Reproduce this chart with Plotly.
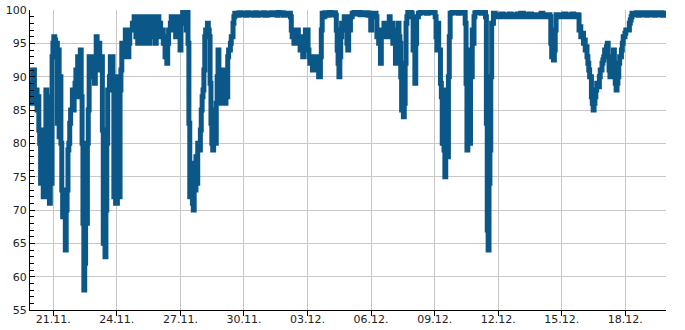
import plotly.graph_objects as go
import pandas as pd

start = pd.Timestamp("2020-11-19 21:36")

hours1 = [0,1,2,3,5,6,7,8,9,10,11,12,14,15,16,17,18,19,20,22,23,24,25,26,27,28,29,31,32,33,34,35,36,37,39,40,41,42,43,44,45,46,48,49,50,51,52,53,54,56,57,58,59,60,61,62,63,65,66,67,68,69,70,71,73,74,75,76,77,78,79,80,82,83,84,85,86,87,88,90,91,92,93,94,95,96,97,99]
vals1 = [87,86,89,91,88,86,88,85,87,82,80,74,82,72,80,72,88,74,87,71,87,74,93,95,96,95.5,95,83,94,81,90,80,73,69,72,64,70,73,79,80,83,85,88,85,88,89,91,87,93,88,94,87,80,68,58,62,68,80,85,93,90,93,90,92,89,93,96,95,91,95,91,93,82,65,72,63,70,80,88,90,93,89,93,90,72,82,71,88]

hours2 = [100,101,102,103,104,105,107,108,109,110,111,112,113,114,116,117,118,119,120,121,122,124,125,126,127,128,129,130,131,133,134,135,136,137,138,139,140,142,143,144,145,146,147,148,150,151,152,153,154,155,156,157,159,160,161,162,163,164,165,167,168,169,170,171,172,173,174,176,177,178,179,180,181,182,184,185,186,187,188,189,190,191,193,194,195,196,197,198,199,201,202,203]
vals2 = [90,72,88,91,95,93,95,97,94,96,93,95,97,97,98,98,99,98,96,99,95,99,95,99,96,99,99,99,95,99,97,95,99,98,99,96,99,95,98,99,99,97,98,96,97,95,96,93,94,92,95,97,98,99,99,98,97,98,96,99,97,98,94,98,99,100,98,100,97,100,95,83,72,77,71,70,76,73,78,74,80,79,82,85,87,88,91,96,97,98,97,96]

hours3 = [204,205,206,207,208,210,211,212,213,214,215,216,218,219,220,221,222,223,224,225,227,228,229,230,231,232,235,237,239,241,244,246,248,250,253,255,257,259,262,264,266,269,271,273,275,278,280,281,282,284,287,289,291,293,295,296,297,298,299,300,301,303,304]
vals3 = [89,83,80,79,85,80,86,90,94,88,91,86,90,87,91,86,90,87,93,94,95,96,96,98,99,99.5,99.2,99.6,99.3,99.5,99.2,99.6,99.3,99.5,99.2,99.6,99.2,99.5,99.3,99.6,99.2,99.5,99.3,99.6,99.3,99.5,99.2,100,99.4,99.6,99.2,99.5,99.3,99.5,99,97,96,97,95,96,95,97,96]

hours4 = [305,306,307,308,309,310,312,313,314,315,316,317,318,320,321,322,323,324,325,326,327,329,330,331,332,334,337,339,341,343,346,347,348,349,350,351,352,353,355,356,357,358,359,360,361,363,365,367,369,372,374,376,378,381,383,385,386,387,390,392,393,394,395,397,398,399,400,401,402,403,404,406,407]
vals4 = [96,94,96,95,93,96,97,96,97,94,93,92,93,91,92,91,93,92,91,92,90,93,97,99.5,99,99.6,99.2,100,99.3,99.6,99.2,97,94,92,90,93,96,98,97,99,97,99,95,94,97,99,99.5,99.8,99.4,99.7,99.3,99.6,99.3,99.6,99.2,99.5,97,99.2,99.5,99,96,97,95,92,96,97,96,98,96,97,98,96,99]

hours5 = [408,409,410,411,412,414,415,416,417,418,419,420,421,423,424,425,426,427,428,429,431,432,433,434,435,436,437,438,440,442,444,446,449,451,453,455,458,459,460,461,462,463,465,466,467,468,469,470,471,472,474,475,476,478,480,483,485,487,489,492,493,494,495,496,497,499,500,501,502,503,504,506,509]
vals5 = [97,96,98,95,96,92,97,96,98,96,95,90,85,84,86,92,98,99,100,99.5,100,99.5,99,94,97,89,95,99,99.5,100,99.6,100,99.5,100,99.6,100,99.6,99,96,94,98,94,89,87,80,88,79,75,86,78,90,96,99.5,100,99.6,100,99.5,100,99.6,100,98,89,79,82,80,94,90,97,95,99,99.6,100,99.6]

hours6 = [511,513,516,517,518,519,520,521,522,523,525,527,529,531,534,536,538,540,543,545,547,550,552,554,556,559,561,563,565,568,570,572,574,577,579,581,583,586,588,589,590,591,593,594,595,596,598,600,603,605,607,610,612,614,616,619,621]
vals6 = [99.5,100,99,83,67,64,74,79,90,98,99.5,99.0,99.3,99.0,99.4,99.0,99.3,99.0,99.4,99.0,99.3,99.0,99.4,99.0,99.5,99.0,99.3,99.0,99.4,99.0,99.3,99.0,99.3,99.0,99.5,99.0,99.3,99.0,99.3,99,95,93,92.5,94,97,99.3,99.0,99.3,99.0,99.4,99.0,99.3,99.0,99.4,99.0,99.3,99.2]

hours7 = [622,623,624,625,627,628,629,630,631,632,633,634,636,637,638,639,640,641,642,644,645,646,647,648,649,650,651,653,654,655,656,657,658,659,661,662,663,664,665,666,667,668,670,671,672,673,674,675,676,678,679,680,681,682,684,687,689,691,693,696,698,700,702,705,707,709,712,714,716,718,720]
vals7 = [97,97.5,96,96.5,95,95.5,94,94.5,93,92,91,90,87,86,85,86,87,88,89,88.5,90,91,91,92,92.5,93,94,94.5,95,93,91,90,92,93,94,91,89,88,89,90,92,93,94,95,96,96,96.5,97,97,97,98,98.5,99,99.5,99.3,99.6,99.2,99.6,99.3,99.6,99.2,99.6,99.3,99.6,99.2,99.6,99.3,99.6,99.2,99.5,99.3]

segments = [(hours1, vals1), (hours2, vals2), (hours3, vals3), (hours4, vals4),
            (hours5, vals5), (hours6, vals6), (hours7, vals7)]
hours, values = [], []
for i, (h, v) in enumerate(segments):
    assert len(h) == len(v), (i, len(h), len(v))
    hours += h
    values += v

times = start + pd.to_timedelta(hours, unit="h")

fig = go.Figure(go.Scatter(x=times, y=values, mode="lines",
                           line=dict(color="#0b5787", width=5, shape="hv")))

fig.update_layout(width=685, height=330, margin=dict(l=30, r=19, t=10, b=20),
                  plot_bgcolor="white", paper_bgcolor="white", showlegend=False,
                  font=dict(family="DejaVu Sans", size=11, color="#222"))

fig.update_xaxes(range=[start, start + pd.Timedelta(hours=720.5)], automargin=False,
                 tickformat="%d.%m.", dtick=3 * 86400000, tick0="2020-11-21",
                 ticks="outside", ticklen=5, tickcolor="black", ticklabelstandoff=-6,
                 showline=True, linecolor="black", linewidth=1,
                 showgrid=True, gridcolor="#c8c8c8", gridwidth=1, zeroline=False)

fig.update_yaxes(range=[55, 100], dtick=5, ticks="inside", ticklen=5, tickcolor="black",
                 automargin=False,
                 showline=True, linecolor="black", linewidth=1,
                 showgrid=True, gridcolor="#c8c8c8", gridwidth=1, zeroline=False,
                 minor=dict(dtick=1, ticks="inside", ticklen=4, tickcolor="black", showgrid=False))

fig.write_html("out.html")
